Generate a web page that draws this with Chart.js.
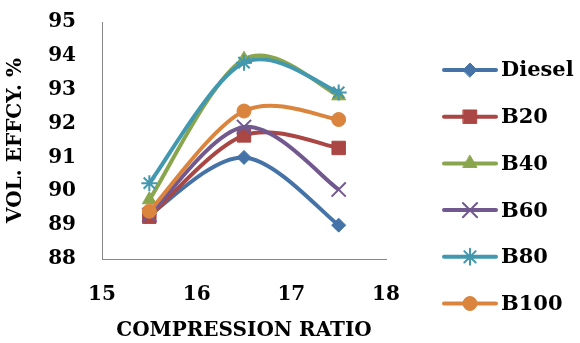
<!DOCTYPE html>
<html><head><meta charset="utf-8">
<script src="https://cdn.jsdelivr.net/npm/chart.js@4/dist/chart.umd.min.js"></script>
<style>html,body{margin:0;padding:0;background:#fff}#wrap{width:580px;height:343px;position:relative}</style>
</head><body><div id="wrap"><canvas id="c" width="580" height="343"></canvas></div>
<script>
const compressionRatios = [15.5, 16.5, 17.5];
const seriesNames = ['Diesel', 'B20', 'B40', 'B60', 'B80', 'B100'];
const diesel = [89.3, 91.0, 89.0];
const b20 = [89.25, 91.65, 91.28];
const b40 = [89.75, 93.9, 92.82];
const b60 = [89.3, 91.9, 90.05];
const b80 = [90.24, 93.8, 92.92];
const b100 = [89.41, 92.37, 92.12];
const xTicks = [15, 16, 17, 18];
const yTicks = [88, 89, 90, 91, 92, 93, 94, 95];

const seriesValues = [diesel, b20, b40, b60, b80, b100];
const colors = ['#4572A7', '#AA4643', '#89A54E', '#71588F', '#4198AF', '#DB843D'];
const styles = ['rectRot', 'rect', 'triangle', 'crossRot', 'star', 'circle'];
const radii = [7, 9.5, 8, 10, 8, 7];
const FONT = 'DejaVu Serif';

const datasets = seriesNames.map((n, i) => ({
  label: n,
  data: compressionRatios.map((x, k) => ({x: x, y: seriesValues[i][k]})),
  borderColor: colors[i],
  backgroundColor: colors[i],
  borderWidth: 4,
  tension: 0.4,
  pointStyle: styles[i],
  pointRadius: radii[i],
  pointBorderWidth: (styles[i] === 'crossRot' || styles[i] === 'star') ? 2 : 1,
  pointBackgroundColor: colors[i],
  pointBorderColor: colors[i],
  order: seriesNames.length - i
}));

// Office-style smoothing: Catmull-Rom control points (neighbour difference / 6)
const smoothPlugin = {
  id: 'officeSmooth',
  beforeDatasetsDraw(chart) {
    chart.data.datasets.forEach((ds, i) => {
      const meta = chart.getDatasetMeta(i);
      if (!meta.dataset || !meta.data.length) return;
      meta.dataset.updateControlPoints(chart.chartArea, 'x');
      const pts = meta.data;
      const n = pts.length;
      for (let k = 0; k < n; k++) {
        const p = pts[k];
        const prev = pts[Math.max(0, k - 1)];
        const next = pts[Math.min(n - 1, k + 1)];
        const dx = (next.x - prev.x) / 6, dy = (next.y - prev.y) / 6;
        p.cp1x = p.x - dx; p.cp1y = p.y - dy;
        p.cp2x = p.x + dx; p.cp2y = p.y + dy;
      }
    });
  }
};

const legendPlugin = {
  id: 'customLegend',
  afterDraw(chart) {
    const ctx = chart.ctx;
    ctx.save();
    chart.data.datasets.forEach((ds, i) => {
      const y = 70 + i * 46.7;
      ctx.strokeStyle = ds.borderColor;
      ctx.lineWidth = 4;
      ctx.lineCap = 'round';
      ctx.beginPath(); ctx.moveTo(444, y); ctx.lineTo(496, y); ctx.stroke();
      ctx.fillStyle = ds.backgroundColor;
      ctx.strokeStyle = ds.borderColor;
      ctx.lineWidth = ds.pointBorderWidth;
      Chart.helpers.drawPoint(ctx, {pointStyle: ds.pointStyle, radius: ds.pointRadius, rotation: 0, borderWidth: ds.pointBorderWidth}, 470, y);
      ctx.fillStyle = '#000';
      ctx.font = 'bold 21px "' + FONT + '"';
      ctx.textAlign = 'left';
      ctx.textBaseline = 'middle';
      ctx.fillText(ds.label, 501, y + 1);
    });
    ctx.restore();
  }
};

new Chart(document.getElementById('c'), {
  type: 'line',
  data: {datasets},
  plugins: [smoothPlugin, legendPlugin],
  options: {
    responsive: false,
    animation: false,
    layout: {padding: {top: 22, right: 194, left: 0, bottom: 0}},
    plugins: {legend: {display: false}, tooltip: {enabled: false}},
    scales: {
      x: {
        type: 'linear', min: 15, max: 18,
        afterBuildTicks: s => { s.ticks = xTicks.map(v => ({value: v})); },
        afterFit: s => { s.height = 84; s.paddingLeft = 0; s.paddingRight = 0; },
        grid: {color: 'rgba(0,0,0,0)', drawTicks: false},
        border: {display: true, color: '#868686', width: 1},
        ticks: {padding: 24, color: '#000', font: {family: FONT, size: 20, weight: 'bold'}},
        title: {display: true, text: 'COMPRESSION RATIO', color: '#000', padding: {top: 0, bottom: 0}, font: {family: FONT, size: 20, weight: 'bold', lineHeight: 1.2}}
      },
      y: {
        type: 'linear', min: 88, max: 95,
        afterBuildTicks: s => { s.ticks = yTicks.map(v => ({value: v})); },
        afterFit: s => { s.width = 102; s.paddingTop = 0; s.paddingBottom = 0; },
        grid: {color: 'rgba(0,0,0,0)', drawTicks: false},
        border: {display: true, color: '#868686', width: 1},
        ticks: {padding: 26, color: '#000', font: {family: FONT, size: 20, weight: 'bold'}},
        title: {display: true, text: 'VOL. EFFCY. %', color: '#000', padding: {top: 4, bottom: 0}, font: {family: FONT, size: 20, weight: 'bold', lineHeight: 1.2}}
      }
    }
  }
});
</script></body></html>
